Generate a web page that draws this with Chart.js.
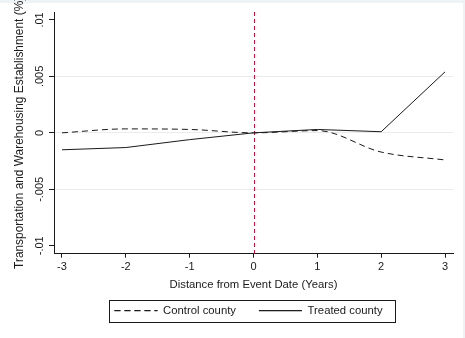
<!DOCTYPE html>
<html lang="en">
<head>
    <meta charset="UTF-8">
    <title>Transportation and Warehousing Establishment</title>
    <script src="https://cdn.jsdelivr.net/npm/chart.js"></script>
    <style>
        body { margin: 0; background: #fff; }
        #wrap { width: 465px; height: 338px; }
    </style>
</head>
<body>
    <div id="wrap"><canvas id="eventChart" width="465" height="338"></canvas></div>

    <script>
        // event years and estimated shares
        const years = [-3, -2, -1, 0, 1, 2, 3];
        const controlCounty = [0, 0.00035, 0.0003, 0, 0.0002, -0.0017, -0.0024];
        const treatedCounty = [-0.0015, -0.0013, -0.0006, 0, 0.0003, 0.0001, 0.0054];
        const xTicks = [-3, -2, -1, 0, 1, 2, 3];
        const yTicks = [-0.01, -0.005, 0, 0.005, 0.01];
        const yTickLabels = ['-.01', '-.005', '0', '.005', '.01'];
        const eventYear = 0;

        const FONT = "'Liberation Sans', Arial, sans-serif";
        const INK = '#1a1a1a';

        const toPoints = vals => years.map((x, i) => ({ x: x, y: vals[i] }));

        // light frame + red event line + rotated y labels + legend box
        const decorations = {
            id: 'decorations',
            beforeDraw(chart) {
                const ctx = chart.ctx;
                ctx.save();
                ctx.fillStyle = '#fff';
                ctx.fillRect(0, 0, chart.width, chart.height);
                ctx.fillStyle = '#eef3f6';
                ctx.fillRect(0, 0, chart.width, 3);
                ctx.fillRect(chart.width - 2, 0, 2, chart.height);
                ctx.restore();
            },
            beforeDatasetsDraw(chart) {
                const { ctx, chartArea, scales } = chart;
                const x = Math.round(scales.x.getPixelForValue(eventYear)) + 0.5;
                ctx.save();
                ctx.strokeStyle = '#c0143c';
                ctx.lineWidth = 1;
                ctx.setLineDash([4, 3]);
                ctx.beginPath();
                ctx.moveTo(x, chartArea.top);
                ctx.lineTo(x, chartArea.bottom);
                ctx.stroke();
                ctx.restore();
            },
            afterLayout(chart) {
                const lg = chart.legend, a = chart.chartArea;
                lg.left = a.left - 5;
                lg.right = a.right - 5;
                lg.width = lg.right - lg.left;
                lg.top = 282;
                lg.bottom = lg.top + lg.height;
            },
            afterDraw(chart) {
                const ctx = chart.ctx;
                const ys = chart.scales.y;
                ctx.save();
                ctx.fillStyle = INK;
                ctx.font = '11px ' + FONT;
                ctx.textAlign = 'center';
                ctx.textBaseline = 'middle';
                yTicks.forEach((v, i) => {
                    ctx.save();
                    ctx.translate(40, ys.getPixelForValue(v));
                    ctx.rotate(-Math.PI / 2);
                    ctx.fillText(yTickLabels[i], 0, 0);
                    ctx.restore();
                });
                // frame round the legend
                const boxes = chart.legend.legendHitBoxes;
                if (boxes && boxes.length) {
                    const l = Math.min(...boxes.map(b => b.left)) - 5;
                    const r = Math.max(...boxes.map(b => b.left + b.width)) + 13;
                    const t = boxes[0].top - 5;
                    const b = boxes[0].top + boxes[0].height + 6;
                    ctx.strokeStyle = INK;
                    ctx.lineWidth = 1;
                    ctx.strokeRect(Math.round(l) + 0.5, Math.round(t) + 0.5, Math.round(r - l), Math.round(b - t));
                }
                ctx.restore();
            }
        };

        new Chart(document.getElementById('eventChart').getContext('2d'), {
            type: 'line',
            data: {
                datasets: [
                    {
                        label: 'Control county',
                        data: toPoints(controlCounty),
                        borderColor: INK,
                        backgroundColor: 'rgba(0,0,0,0)',
                        borderWidth: 1,
                        borderDash: [6, 4],
                        cubicInterpolationMode: 'monotone',
                        pointRadius: 0,
                        fill: false
                    },
                    {
                        label: 'Treated county',
                        data: toPoints(treatedCounty),
                        borderColor: INK,
                        backgroundColor: 'rgba(0,0,0,0)',
                        borderWidth: 1,
                        pointRadius: 0,
                        fill: false
                    }
                ]
            },
            options: {
                responsive: false,
                animation: false,
                layout: { padding: { left: 0, right: 12, top: 12, bottom: 2 } },
                scales: {
                    x: {
                        type: 'linear',
                        min: -3.125,
                        max: 3.125,
                        afterBuildTicks: s => { s.ticks = xTicks.map(v => ({ value: v })); },
                        afterFit: s => { s.height = 38; },
                        border: { color: INK, width: 1 },
                        grid: { drawOnChartArea: false, drawTicks: true, tickLength: 4, tickColor: INK },
                        ticks: { color: INK, font: { family: FONT, size: 11 }, padding: 3, maxRotation: 0 },
                        title: {
                            display: true,
                            text: 'Distance from Event Date (Years)',
                            color: INK,
                            font: { family: FONT, size: 11.3 },
                            padding: { top: 0, bottom: 0 }
                        }
                    },
                    y: {
                        min: -0.0107,
                        max: 0.0107,
                        afterBuildTicks: s => { s.ticks = yTicks.map(v => ({ value: v })); },
                        afterFit: s => { s.width = 54; },
                        border: { color: INK, width: 1 },
                        grid: {
                            color: c => (c.tick && Math.abs(c.tick.value) < 0.009) ? '#ebebeb' : 'rgba(0,0,0,0)',
                            drawTicks: true,
                            tickLength: 5,
                            tickColor: INK
                        },
                        ticks: { display: false },
                        title: {
                            display: true,
                            text: 'Transportation and Warehousing Establishment (%)',
                            color: INK,
                            font: { family: FONT, size: 11.9 },
                            padding: { top: 13, bottom: 0 }
                        }
                    }
                },
                plugins: {
                    legend: {
                        position: 'bottom',
                        labels: {
                            boxWidth: 43,
                            boxHeight: 0,
                            padding: 23,
                            color: INK,
                            font: { family: FONT, size: 11.3 }
                        }
                    },
                    tooltip: { enabled: false }
                }
            },
            plugins: [decorations]
        });
    </script>
</body>
</html>
